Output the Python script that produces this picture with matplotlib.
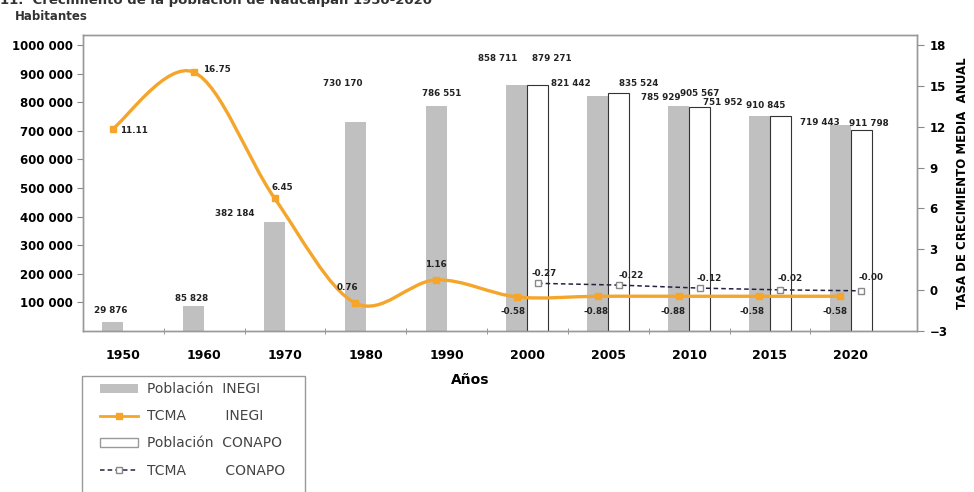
import numpy as np
import matplotlib.pyplot as plt
from matplotlib.path import Path
from matplotlib.patches import PathPatch, Patch, Rectangle
from matplotlib.lines import Line2D

# datos
years = ['1950', '1960', '1970', '1980', '1990', '2000', '2005', '2010', '2015', '2020']
pob_inegi = [29876, 85828, 382184, 730170, 786551, 858711, 821442, 785929, 751952, 719443]
pob_conapo = [860000, 832000, 784000, 753000, 703000]
conapo_labels = ['879 271', '835 524', '905 567', '910 845', '911 798']
tcma_inegi = [11.85, 16.0, 6.75, -0.95, 0.75, -0.5, -0.45, -0.45, -0.45, -0.45]
tcma_inegi_labels = ['11.11', '16.75', '6.45', '0.76', '1.16', '-0.58', '-0.88', '-0.88', '-0.58', '-0.58']
tcma_conapo = [0.5, 0.37, 0.15, 0.02, -0.05]
tcma_conapo_labels = ['-0.27', '-0.22', '-0.12', '-0.02', '-0.00']

# desplazamientos de etiquetas (pixeles)
off_pob_inegi = [(-2, 12), (-2, 8), (-40, 8), (-13, 39), (6, 13), (-19, 27), (-27, 13), (-18, 9), (-37, 13), (-20, 3)]
off_pob_conapo = [(14, 27), (20, 10), (0, 13), (-15, 10), (8, 6)]
off_tcma_inegi = [(21, -2), (23, 3), (8, 11), (-8, 16), (0, 15), (-4, -15), (-2, -15), (-6, -15), (-7, -15), (-5, -15)]
off_tcma_conapo = [(6, 10), (12, 10), (10, 10), (10, 11), (10, 13)]

GRAY = '#c0c0c0'
ORANGE = '#f4a52a'
w = 0.26

fig = plt.figure(figsize=(9.74, 4.92), dpi=100)
ax = fig.add_axes([83 / 974, 1 - 331 / 492, 834 / 974, 296 / 492])
ax2 = ax.twinx()

x = np.arange(len(years))
xi = x - w / 2
xc = x[5:] + w / 2

ax.bar(xi, pob_inegi, width=w, color=GRAY, zorder=2)
ax.bar(xc, pob_conapo, width=w, facecolor='white', edgecolor='#333333', linewidth=0.8, zorder=2)

lab_kw = dict(textcoords='offset pixels', ha='center', va='center', fontsize=6.3,
              fontweight='bold', color='#222222')
for i in range(len(years)):
    s = f'{pob_inegi[i]:,}'.replace(',', ' ')
    ax.annotate(s, (xi[i], pob_inegi[i]), xytext=off_pob_inegi[i], **lab_kw)
for i in range(len(xc)):
    ax.annotate(conapo_labels[i], (xc[i], pob_conapo[i]), xytext=off_pob_conapo[i], **lab_kw)

# línea suavizada INEGI (bezier tipo Excel)
pts = np.column_stack([xi, tcma_inegi])
verts = [pts[0]]
codes = [Path.MOVETO]
n = len(pts)
for i in range(n - 1):
    p0 = pts[max(i - 1, 0)]
    p1 = pts[i]
    p2 = pts[i + 1]
    p3 = pts[min(i + 2, n - 1)]
    verts += [p1 + (p2 - p0) / 6, p2 - (p3 - p1) / 6, p2]
    codes += [Path.CURVE4] * 3
ax2.add_patch(PathPatch(Path(verts, codes), fill=False, edgecolor=ORANGE, linewidth=2.4, zorder=3))
ax2.plot(xi, tcma_inegi, linestyle='none', marker='s', markersize=5, color=ORANGE, zorder=4)

ax2.plot(xc, tcma_conapo, linestyle=(0, (3, 2)), color='#222244', linewidth=1.1,
         marker='s', markersize=4, markerfacecolor='white', markeredgecolor='#888888', zorder=4)

for i in range(len(years)):
    ax2.annotate(tcma_inegi_labels[i], (xi[i], tcma_inegi[i]), xytext=off_tcma_inegi[i], **lab_kw)
for i in range(len(xc)):
    ax2.annotate(tcma_conapo_labels[i], (xc[i], tcma_conapo[i]), xytext=off_tcma_conapo[i], **lab_kw)

ax.set_xlim(-0.5, 9.82)
ax.set_ylim(0, 1035000)
ax2.set_ylim(-3, 18.73)

yt = np.arange(100000, 1000001, 100000)
ax.set_yticks(yt)
ax.set_yticklabels([f'{v:,}'.replace(',', ' ').replace('1 000 000', '1000 000') for v in yt])
ax2.set_yticks(np.arange(-3, 19, 3))

ax.set_xticks(x)
ax.set_xticklabels(years)
ax.set_xticks(np.arange(0.5, 9.5, 1), minor=True)
ax.tick_params(axis='x', which='major', length=0, pad=13, labelsize=9)
ax.tick_params(axis='x', which='minor', length=5, direction='inout', color='#888888')
ax.tick_params(axis='y', length=4, color='#888888', labelsize=8.5, pad=3)
ax2.tick_params(axis='y', length=5, color='#888888', labelsize=8.5, pad=4)
for lab in ax.get_xticklabels() + ax.get_yticklabels() + ax2.get_yticklabels():
    lab.set_fontweight('bold')

for a in (ax, ax2):
    for sp in a.spines.values():
        sp.set_color('#999999')
        sp.set_linewidth(1)

ax2.set_ylabel('TASA DE CRECIMIENTO MEDIA  ANUAL', fontsize=8.5, fontweight='bold', rotation=90, va='center')
ax2.yaxis.set_label_coords(1.055, 0.5)

fig.text(0.0, 1 - 4 / 492, '11.  Crecimiento de la población de Naucalpan 1950-2020',
         fontsize=9.5, fontweight='bold', color='#333333', va='baseline', ha='left')
fig.text(15 / 974, 1 - 17 / 492, 'Habitantes', fontsize=8.5, fontweight='bold', color='#333333', va='center')
fig.text(470 / 974, 1 - 380 / 492, 'Años', fontsize=10, fontweight='bold', ha='center', va='center')

handles = [
    Patch(facecolor=GRAY, edgecolor='none'),
    Line2D([], [], color=ORANGE, linewidth=2, marker='s', markersize=5),
    Patch(facecolor='white', edgecolor='#999999'),
    Line2D([], [], color='#222244', linestyle=(0, (3, 2)), linewidth=1.1, marker='s', markersize=4,
           markerfacecolor='white', markeredgecolor='#888888'),
]
labels = ['Población  INEGI', 'TCMA         INEGI', 'Población  CONAPO', 'TCMA         CONAPO']
leg = fig.legend(handles, labels, loc='upper left', bbox_to_anchor=(100 / 974, 1 - 382 / 492),
                 frameon=False, fontsize=10, handlelength=2.7, handleheight=0.6,
                 handletextpad=0.65, labelspacing=0.95, borderpad=0, borderaxespad=0)
for t in leg.get_texts():
    t.set_color('#444444')
fig.add_artist(Rectangle((82 / 974, -0.05), (305 - 82) / 974, (1 - 376 / 492) + 0.05,
                         transform=fig.transFigure, fill=False, edgecolor='#999999', linewidth=1))

fig.savefig('out.png', dpi=100)
